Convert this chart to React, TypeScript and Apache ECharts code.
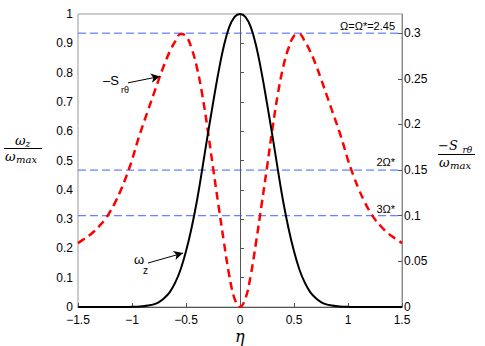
import React, { useEffect, useRef } from "react";
import * as echarts from "echarts";

const eta = [
  -1.5, -1.45, -1.4, -1.35, -1.3, -1.25, -1.2, -1.15, -1.1, -1.05,
  -1.0, -0.95, -0.9, -0.85, -0.8, -0.75, -0.7, -0.65, -0.6, -0.55,
  -0.5, -0.45, -0.4, -0.35, -0.3, -0.25, -0.2, -0.15, -0.1, -0.05,
  0,
  0.05, 0.1, 0.15, 0.2, 0.25, 0.3, 0.35, 0.4, 0.45, 0.5,
  0.55, 0.6, 0.65, 0.7, 0.75, 0.8, 0.85, 0.9, 0.95, 1.0,
  1.05, 1.1, 1.15, 1.2, 1.25, 1.3, 1.35, 1.4, 1.45, 1.5,
];

const omegaZ = [
  0, 0, 0, 0, 0, 0, 0, 0, 0, 0,
  0.0005, 0.001, 0.0025, 0.005, 0.009, 0.017, 0.031, 0.051, 0.083, 0.128,
  0.19, 0.267, 0.36, 0.47, 0.585, 0.695, 0.8, 0.89, 0.955, 0.99,
  1,
  0.99, 0.955, 0.89, 0.8, 0.695, 0.585, 0.47, 0.36, 0.267, 0.19,
  0.128, 0.083, 0.051, 0.031, 0.017, 0.009, 0.005, 0.0025, 0.001, 0.0005,
  0, 0, 0, 0, 0, 0, 0, 0, 0, 0,
];

const minusSrt = [
  0.07, 0.074, 0.078, 0.083, 0.089, 0.096, 0.105, 0.116, 0.129, 0.144,
  0.161, 0.181, 0.199, 0.216, 0.233, 0.25, 0.266, 0.28, 0.291, 0.299,
  0.297, 0.284, 0.263, 0.233, 0.195, 0.153, 0.112, 0.072, 0.035, 0.009,
  0,
  0.009, 0.035, 0.072, 0.112, 0.153, 0.195, 0.233, 0.263, 0.284, 0.297,
  0.299, 0.291, 0.28, 0.266, 0.25, 0.233, 0.216, 0.199, 0.181, 0.161,
  0.144, 0.129, 0.116, 0.105, 0.096, 0.089, 0.083, 0.078, 0.074, 0.07,
];

const refLevels = [0.3, 0.15, 0.1];
const refLabels = ["Ω=Ω*=2.45", "2Ω*", "3Ω*"];

const xTicks = [-1.5, -1, -0.5, 0, 0.5, 1, 1.5];

const sans = "'Liberation Sans', Arial, sans-serif";
const serif = "'DejaVu Serif', serif";

export default function App() {
  const ref = useRef<HTMLDivElement>(null);
  useEffect(() => {
    if (!ref.current) return;
    const chart = echarts.init(ref.current, undefined, { renderer: "svg" });
    const axisColor = "#555";
    const refSeries = refLevels.map((v, i) => ({
      type: "line",
      name: "ref" + i,
      yAxisIndex: 1,
      data: [
        [-1.5, v],
        [1.5, v],
      ],
      showSymbol: false,
      symbol: "none",
      silent: true,
      lineStyle: { color: "#3f5fff", width: 1, type: [8, 4] },
      z: 2,
    }));
    const option: any = {
      animation: false,
      grid: {
        left: 78,
        right: 83,
        top: 14,
        bottom: 39,
        show: true,
        borderColor: "#999",
        borderWidth: 1,
      },
      xAxis: {
        type: "value",
        min: -1.5,
        max: 1.5,
        interval: 0.5,
        axisLine: { show: true, onZero: false, lineStyle: { color: axisColor } },
        axisTick: { show: true, inside: true, length: 4, lineStyle: { color: axisColor } },
        splitLine: { show: false },
        axisLabel: {
          color: "#000",
          fontFamily: sans,
          fontSize: 12,
          lineHeight: 12,
          margin: 7,
          formatter: (v: number) =>
            xTicks.includes(v) ? String(v).replace("-", "−") : "",
        },
      },
      yAxis: [
        {
          type: "value",
          min: 0,
          max: 1,
          interval: 0.1,
          position: "left",
          axisLine: { show: true, lineStyle: { color: axisColor } },
          axisTick: { show: true, inside: true, length: 4, lineStyle: { color: axisColor } },
          splitLine: { show: false },
          axisLabel: {
            color: "#000",
            fontFamily: sans,
            fontSize: 12,
            lineHeight: 10,
            margin: 5,
            formatter: (v: number) => String(+v.toFixed(1)),
          },
        },
        {
          type: "value",
          min: 0,
          max: 0.321,
          interval: 0.05,
          position: "right",
          axisLine: { show: true, lineStyle: { color: "#888" } },
          axisTick: { show: true, inside: true, length: 4, lineStyle: { color: axisColor } },
          splitLine: { show: false },
          axisLabel: {
            color: "#000",
            fontFamily: sans,
            fontSize: 12,
            lineHeight: 10,
            margin: 2,
            showMaxLabel: false,
            formatter: (v: number) => {
              const k = v / 0.05;
              return Math.abs(k - Math.round(k)) < 1e-6 ? String(+v.toFixed(2)) : "";
            },
          },
        },
      ],
      series: [
        ...refSeries,
        {
          type: "line",
          name: "Srt",
          yAxisIndex: 1,
          data: eta.map((e, i) => [e, minusSrt[i]]),
          smooth: 0.4,
          showSymbol: false,
          symbol: "none",
          lineStyle: { color: "#ff0000", width: 2.5, type: [8, 5] },
          z: 3,
        },
        {
          type: "line",
          name: "omega",
          yAxisIndex: 0,
          data: eta.map((e, i) => [e, omegaZ[i]]),
          smooth: 0.4,
          showSymbol: false,
          symbol: "none",
          lineStyle: { color: "#000", width: 2 },
          z: 4,
          markLine: {
            silent: true,
            symbol: ["none", "arrow"],
            symbolSize: [7, 9],
            animation: false,
            label: { show: false },
            lineStyle: { color: "#000", width: 1, type: "solid" },
            data: [
              [{ coord: [-1.037, 0.765] }, { coord: [-0.741, 0.787] }],
              [{ coord: [-0.852, 0.15] }, { coord: [-0.528, 0.184] }],
            ],
          },
        },
      ],
      graphic: [
        // reference line labels
        { type: "text", right: 90, top: 20, style: { text: refLabels[0], fontFamily: sans, fontSize: 11, fill: "#000" } },
        { type: "text", right: 90, top: 156, style: { text: refLabels[1], fontFamily: sans, fontSize: 11, fill: "#000" } },
        { type: "text", right: 90, top: 203, style: { text: refLabels[2], fontFamily: sans, fontSize: 11, fill: "#000" } },
        // -S_rθ annotation
        { type: "text", x: 103, y: 74, style: { text: "–S", fontFamily: sans, fontSize: 13, fill: "#000" } },
        { type: "text", x: 121, y: 85, style: { text: "rθ", fontFamily: sans, fontSize: 9, fill: "#000" } },
        // ω_z annotation
        { type: "text", x: 134, y: 253, style: { text: "ω", fontFamily: sans, fontSize: 13, fill: "#000" } },
        { type: "text", x: 143, y: 265, style: { text: "z", fontFamily: sans, fontSize: 10, fill: "#000" } },
        // x axis name
        { type: "text", x: 235, y: 328, style: { text: "η", fontFamily: serif, fontStyle: "italic", fontSize: 16, fill: "#000" } },
        // left fraction
        { type: "text", x: 15, y: 134, style: { text: "ω", fontFamily: serif, fontStyle: "italic", fontSize: 13, fill: "#000" } },
        { type: "text", x: 25.5, y: 139, style: { text: "z", fontFamily: serif, fontStyle: "italic", fontSize: 9, fill: "#000" } },
        { type: "line", shape: { x1: 4, y1: 148.5, x2: 42, y2: 148.5 }, style: { stroke: "#000", lineWidth: 1 } },
        { type: "text", x: 5, y: 150, style: { text: "ω", fontFamily: serif, fontStyle: "italic", fontSize: 13, fill: "#000" } },
        { type: "text", x: 16, y: 154, style: { text: "max", fontFamily: serif, fontStyle: "italic", fontSize: 10, fill: "#000" } },
        // right fraction
        { type: "text", x: 438, y: 139, style: { text: "−S", fontFamily: serif, fontStyle: "italic", fontSize: 13, fill: "#000" } },
        { type: "text", x: 462.5, y: 145, style: { text: "rθ", fontFamily: serif, fontStyle: "italic", fontSize: 9, fill: "#000" } },
        { type: "line", shape: { x1: 438, y1: 154.5, x2: 475, y2: 154.5 }, style: { stroke: "#000", lineWidth: 1 } },
        { type: "text", x: 439, y: 156, style: { text: "ω", fontFamily: serif, fontStyle: "italic", fontSize: 13, fill: "#000" } },
        { type: "text", x: 450, y: 160, style: { text: "max", fontFamily: serif, fontStyle: "italic", fontSize: 10, fill: "#000" } },
      ],
    };
    chart.setOption(option);
    return () => chart.dispose();
  }, []);
  return (
    <div
      ref={ref}
      style={{ position: "fixed", left: 0, top: 0, width: 485, height: 346, background: "#fff" }}
    />
  );
}
